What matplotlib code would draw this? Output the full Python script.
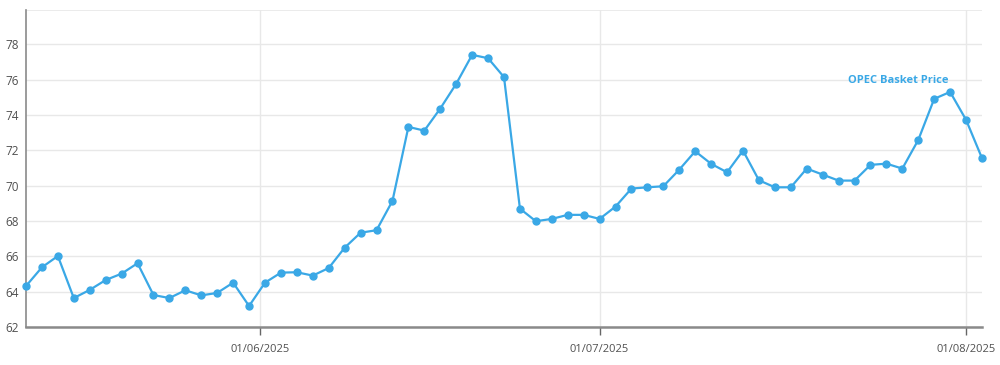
import matplotlib
matplotlib.use("Agg")
import matplotlib.pyplot as plt
import numpy as np
import pandas as pd

plt.rcParams['font.family'] = ['Open Sans', 'DejaVu Sans']

# Trading days (weekdays) from 12 May 2025 to 4 Aug 2025
dates = pd.bdate_range("2025-05-12", "2025-08-04")
prices = [
    64.32, 65.38, 66.02, 63.64, 64.10, 64.66, 65.02, 65.61, 63.81, 63.64,
    64.08, 63.79, 63.93, 64.51, 63.19, 64.51, 65.08, 65.10, 64.91, 65.34,
    66.49, 67.34, 67.48, 69.14, 73.33, 73.12, 74.37, 75.77, 77.41, 77.22,
    76.15, 68.70, 67.99, 68.12, 68.35, 68.35, 68.12, 68.82, 69.84, 69.91,
    69.97, 70.91, 71.95, 71.24, 70.76, 71.99, 70.31, 69.91, 69.91, 70.97,
    70.63, 70.29, 70.29, 71.18, 71.25, 70.97, 72.59, 74.92, 75.31, 73.73,
    71.56,
]
series_label = "OPEC Basket Price"
tick_dates = pd.to_datetime(["2025-06-01", "2025-07-01", "2025-08-01"])
tick_labels = ["01/06/2025", "01/07/2025", "01/08/2025"]
y_ticks = [62, 64, 66, 68, 70, 72, 74, 76, 78]

# Ordinal axis: trading days evenly spaced, other dates interpolated in time
idx = np.arange(len(dates))
dnum = dates.values.astype("datetime64[s]").astype(np.int64)
tnum = tick_dates.values.astype("datetime64[s]").astype(np.int64)
tick_pos = np.interp(tnum, dnum, idx)

blue = "#3aa8e6"
fig = plt.figure(figsize=(10, 3.65), dpi=100)
ax = fig.add_axes([0.026, 1 - 327 / 365, 0.956, 317 / 365])

ax.plot(idx, prices, color=blue, lw=1.6, marker="o", ms=5, mec=blue, mfc=blue,
        zorder=3, clip_on=False)

ax.set_xlim(idx[0], idx[-1])
ax.set_ylim(62, 79.95)
ax.set_yticks(y_ticks)
ax.set_yticklabels([str(v) for v in y_ticks])
ax.set_xticks(tick_pos)
ax.set_xticklabels(tick_labels)

ax.grid(True, color="#e8e8e8", lw=1)
ax.axhline(79.95, color="#e8e8e8", lw=1.2, zorder=0)
ax.set_axisbelow(True)

for s in ["top", "right"]:
    ax.spines[s].set_visible(False)
ax.spines["left"].set_color("#8a8a8a")
ax.spines["left"].set_linewidth(1.2)
ax.spines["bottom"].set_color("#8a8a8a")
ax.spines["bottom"].set_linewidth(1.8)

ax.tick_params(axis="y", length=0, pad=5, labelsize=8.5, labelcolor="#505050")
ax.tick_params(axis="x", length=6, width=1, color="#666666", pad=6,
               labelsize=8, labelcolor="#505050")

ax.annotate(series_label, xy=(idx[58], prices[58]), xytext=(-1, 4),
            textcoords="offset points", ha="right", va="bottom",
            color=blue, fontsize=8, fontweight="bold")

fig.savefig("out.png", dpi=100, facecolor="white")
